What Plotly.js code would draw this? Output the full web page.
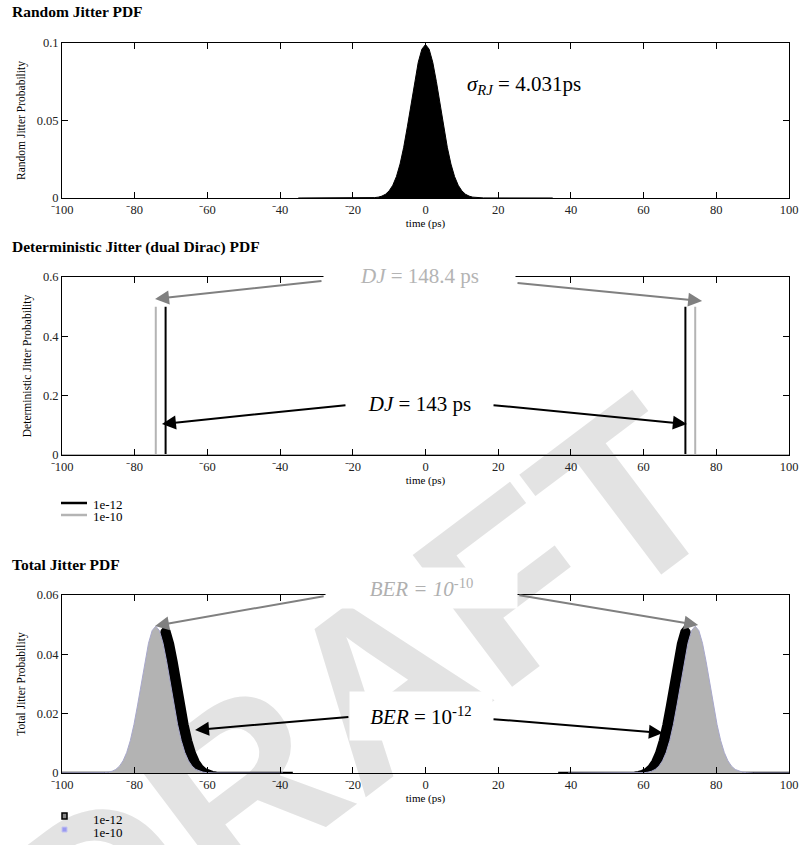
<!DOCTYPE html>
<html><head><meta charset="utf-8">
<script src="https://cdn.plot.ly/plotly-3.0.1.min.js"></script>
<style>html,body{margin:0;padding:0;background:#fff}#chart{width:803px;height:845px}</style>
</head><body><div id="chart"></div>
<script>
// ---------- data ----------
const tickVals = [-100,-80,-60,-40,-20,0,20,40,60,80,100];
const tickText = ['\u207B100','\u207B80','\u207B60','\u207B40','\u207B20','0','20','40','60','80','100'];

// Random jitter PDF (sigma_RJ = 4.031 ps)
const rjTime = [-35,-16,-15,-14,-13,-12,-11,-10,-9,-8,-7,-6,-5,-4,-3,-2,-1,0,1,2,3,4,5,6,7,8,9,10,11,12,13,14,15,16,35];
const rjProb = [0,0.00004,0.0001,0.00024,0.00055,0.0012,0.0024,0.0046,0.0082,0.0138,0.0219,0.0327,0.0459,0.0605,0.0750,0.0875,0.0960,0.0990,0.0960,0.0875,0.0750,0.0605,0.0459,0.0327,0.0219,0.0138,0.0082,0.0046,0.0024,0.0012,0.00055,0.00024,0.0001,0.00004,0];

// Deterministic jitter (dual Dirac)
const djTime12 = [-100,-71.5,-71.5,-71.5,71.5,71.5,71.5,100];
const djProb12 = [0,0,0.5,0,0,0.5,0,0];
const djTime10 = [-100,-74.2,-74.2,-74.2,74.2,74.2,74.2,100];
const djProb10 = [0,0,0.5,0,0,0.5,0,0];

// Total jitter PDF
const tjTime12 = [-106.5,-87.5,-86.5,-85.5,-84.5,-83.5,-82.5,-81.5,-80.5,-79.5,-78.5,-77.5,-76.5,-75.5,-74.5,-73.5,-72.5,-71.5,-70.5,-69.5,-68.5,-67.5,-66.5,-65.5,-64.5,-63.5,-62.5,-61.5,-60.5,-59.5,-58.5,-57.5,-56.5,-55.5,-36.5,null,
  36.5,55.5,56.5,57.5,58.5,59.5,60.5,61.5,62.5,63.5,64.5,65.5,66.5,67.5,68.5,69.5,70.5,71.5,72.5,73.5,74.5,75.5,76.5,77.5,78.5,79.5,80.5,81.5,82.5,83.5,84.5,85.5,86.5,87.5,106.5];
const tjProb12 = [0,0.00002,0.00005,0.00012,0.00028,0.0006,0.0012,0.0023,0.0041,0.0069,0.01095,0.01635,0.02295,0.03025,0.0375,0.04375,0.0480,0.0495,0.0480,0.04375,0.0375,0.03025,0.02295,0.01635,0.01095,0.0069,0.0041,0.0023,0.0012,0.0006,0.00028,0.00012,0.00005,0.00002,0,null,
  0,0.00002,0.00005,0.00012,0.00028,0.0006,0.0012,0.0023,0.0041,0.0069,0.01095,0.01635,0.02295,0.03025,0.0375,0.04375,0.0480,0.0495,0.0480,0.04375,0.0375,0.03025,0.02295,0.01635,0.01095,0.0069,0.0041,0.0023,0.0012,0.0006,0.00028,0.00012,0.00005,0.00002,0];
const tjTime10 = [-109.2,-90.2,-89.2,-88.2,-87.2,-86.2,-85.2,-84.2,-83.2,-82.2,-81.2,-80.2,-79.2,-78.2,-77.2,-76.2,-75.2,-74.2,-73.2,-72.2,-71.2,-70.2,-69.2,-68.2,-67.2,-66.2,-65.2,-64.2,-63.2,-62.2,-61.2,-60.2,-59.2,-58.2,-39.2,null,
  39.2,58.2,59.2,60.2,61.2,62.2,63.2,64.2,65.2,66.2,67.2,68.2,69.2,70.2,71.2,72.2,73.2,74.2,75.2,76.2,77.2,78.2,79.2,80.2,81.2,82.2,83.2,84.2,85.2,86.2,87.2,88.2,89.2,90.2,109.2];
const tjProb10 = [0,0.00002,0.00005,0.00012,0.00028,0.0006,0.0012,0.0023,0.0041,0.0069,0.01095,0.01635,0.02295,0.03025,0.0375,0.04375,0.0480,0.0495,0.0480,0.04375,0.0375,0.03025,0.02295,0.01635,0.01095,0.0069,0.0041,0.0023,0.0012,0.0006,0.00028,0.00012,0.00005,0.00002,0,null,
  0,0.00002,0.00005,0.00012,0.00028,0.0006,0.0012,0.0023,0.0041,0.0069,0.01095,0.01635,0.02295,0.03025,0.0375,0.04375,0.0480,0.0495,0.0480,0.04375,0.0375,0.03025,0.02295,0.01635,0.01095,0.0069,0.0041,0.0023,0.0012,0.0006,0.00028,0.00012,0.00005,0.00002,0];

const seriesNames = ['1e-12','1e-10'];

// ---------- helpers (pixel -> paper) ----------
const PX = p => (p - 62) / 727;
const PY = p => (773 - p) / 730;
const SERIF = 'Liberation Serif';
const F = (size, color) => ({family: SERIF, size: size, color: color || '#000'});

function xAx(anchor) {
  return {
    anchor: anchor, range: [-100, 100], tickmode: 'array', tickvals: tickVals, ticktext: tickText,
    showline: true, linecolor: '#000', linewidth: 1, mirror: 'ticks', ticks: 'inside', ticklen: 6,
    tickcolor: '#000', showgrid: false, zeroline: false, tickfont: F(12.5, '#222'),
    title: {text: 'time (ps)', font: F(11), standoff: 2}
  };
}
function yAx(anchor, dom, rng, vals, txt, title) {
  return {
    anchor: anchor, domain: dom, range: rng, tickmode: 'array', tickvals: vals, ticktext: txt,
    showline: true, linecolor: '#000', linewidth: 1, mirror: 'ticks', ticks: 'inside', ticklen: 6,
    tickcolor: '#000', showgrid: false, zeroline: false, tickfont: F(12.5, '#222'),
    title: {text: title, font: F(11.5), standoff: 8}
  };
}

const traces = [
  {x: rjTime, y: rjProb, xaxis: 'x', yaxis: 'y', mode: 'lines', fill: 'tozeroy',
   fillcolor: '#000', line: {color: '#000', width: 1}, showlegend: false},
  {x: djTime12, y: djProb12, xaxis: 'x2', yaxis: 'y2', mode: 'lines', name: seriesNames[0],
   line: {color: '#000', width: 2}, cliponaxis: false, showlegend: false},
  {x: djTime10, y: djProb10, xaxis: 'x2', yaxis: 'y2', mode: 'lines', name: seriesNames[1],
   line: {color: '#b4b4b4', width: 2}, cliponaxis: false, showlegend: false},
  {x: tjTime12, y: tjProb12, xaxis: 'x3', yaxis: 'y3', mode: 'lines', name: seriesNames[0], fill: 'tozeroy',
   fillcolor: '#000', line: {color: '#000', width: 2.5}, showlegend: false},
  {x: tjTime10, y: tjProb10, xaxis: 'x3', yaxis: 'y3', mode: 'lines', name: seriesNames[1], fill: 'tozeroy',
   fillcolor: '#b3b3b3', line: {color: '#a8a8cc', width: 1}, showlegend: false}
];

function arrow(xr, yr, x, y, ax, ay, color) {
  return {xref: xr, yref: yr, axref: xr, ayref: yr, x: x, y: y, ax: ax, ay: ay, text: '',
          showarrow: true, arrowhead: 2, arrowsize: 1.4, arrowwidth: 2, arrowcolor: color, standoff: 0};
}
function box(px, py, text, color, w, h) {
  return {xref: 'paper', yref: 'paper', x: PX(px), y: PY(py), text: text, showarrow: false, bgcolor: '#fff',
          width: w, height: h, xanchor: 'center', yanchor: 'middle', font: F(21, color)};
}
function label(px, py, text, size, bold) {
  return {xref: 'paper', yref: 'paper', x: PX(px), y: PY(py), xanchor: 'left', yanchor: 'middle',
          text: bold ? '<b>' + text + '</b>' : text, showarrow: false, font: F(size)};
}

const annotations = [
  {xref: 'x', yref: 'y', x: 27.2, y: 0.0732, showarrow: false,
   text: '<i>\u03C3</i><sub><i>RJ</i></sub> = 4.031ps', font: F(21)},
  arrow('x2', 'y2', -74.4, 0.526, -28.2, 0.587, '#808080'),
  arrow('x2', 'y2', 76.1, 0.519, 24.9, 0.580, '#808080'),
  arrow('x2', 'y2', -72.5, 0.1045, -21.6, 0.1685, '#000'),
  arrow('x2', 'y2', 71.9, 0.1045, 18.3, 0.1685, '#000'),
  arrow('x3', 'y3', -74.4, 0.0496, -27.6, 0.0597, '#808080'),
  arrow('x3', 'y3', 75.0, 0.0499, 25.4, 0.0600, '#808080'),
  arrow('x3', 'y3', -63.4, 0.0145, -20.8, 0.0189, '#000'),
  arrow('x3', 'y3', 65.3, 0.0135, 18.3, 0.0182, '#000'),
  box(419.5, 276, '<i>DJ</i> = 148.4 ps', '#b4b4b4', 189, 36),
  box(419.5, 404, '<i>DJ</i> = 143 ps', '#000', 141, 40),
  box(421.5, 588, '<i>BER = 10</i><sup>-10</sup>', '#b0b0b0', 189, 38),
  box(421, 716, '<i>BER</i> = 10<sup>-12</sup>', '#000', 140, 46),
  label(10, 247, 'Deterministic Jitter (dual Dirac) PDF', 15.5, true),
  label(10, 564, 'Total Jitter PDF', 15.5, true),
  label(91, 504, seriesNames[0], 13, false),
  label(91, 516, seriesNames[1], 13, false),
  label(91, 820, seriesNames[0], 13, false),
  label(91, 833, seriesNames[1], 13, false)
];

const shapes = [
  {type: 'rect', xref: 'paper', yref: 'paper', x0: PX(335), x1: PX(355), y0: PY(690), y1: PY(670),
   line: {width: 0}, fillcolor: 'rgba(0,0,0,0)', layer: 'below',
   label: {text: '<b>DRAFT</b>', textangle: -37, textposition: 'middle center',
           font: {family: 'Liberation Sans', size: 240, color: '#e3e3e3'}}},
  {type: 'line', xref: 'paper', yref: 'paper', x0: PX(61), x1: PX(87), y0: PY(503), y1: PY(503),
   line: {color: '#000', width: 2.5}},
  {type: 'line', xref: 'paper', yref: 'paper', x0: PX(61), x1: PX(87), y0: PY(515), y1: PY(515),
   line: {color: '#b4b4b4', width: 2.5}},
  {type: 'rect', xref: 'paper', yref: 'paper', x0: PX(62), x1: PX(67), y0: PY(819), y1: PY(813),
   fillcolor: '#888', line: {color: '#000', width: 1.5}},
  {type: 'rect', xref: 'paper', yref: 'paper', x0: PX(62), x1: PX(67), y0: PY(832), y1: PY(827),
   fillcolor: '#9a9af0', line: {color: '#c4c4f0', width: 1}}
];

const layout = {
  width: 803, height: 845,
  margin: {l: 62, r: 14, t: 43, b: 72, pad: 0},
  paper_bgcolor: '#fff', plot_bgcolor: 'rgba(0,0,0,0)',
  font: F(12),
  showlegend: false,
  title: {text: '<b>Random Jitter PDF</b>', xref: 'container', yref: 'container',
          x: 12 / 803, xanchor: 'left', y: 1 - 12 / 845, yanchor: 'middle', font: F(15.5)},
  xaxis: xAx('y'), xaxis2: xAx('y2'), xaxis3: xAx('y3'),
  yaxis: yAx('x', [0.7877, 1], [0, 0.1], [0, 0.05, 0.1], ['0', '0.05', '0.1'], 'Random Jitter Probability'),
  yaxis2: yAx('x2', [0.4356, 0.6795], [0, 0.6], [0, 0.2, 0.4, 0.6], ['0', '0.2', '0.4', '0.6'], 'Deterministic Jitter Probability'),
  yaxis3: yAx('x3', [0, 0.2438], [0, 0.06], [0, 0.02, 0.04, 0.06], ['0', '0.02', '0.04', '0.06'], 'Total Jitter Probability'),
  annotations: annotations,
  shapes: shapes
};

Plotly.newPlot('chart', traces, layout, {displayModeBar: false, staticPlot: true});
</script></body></html>
